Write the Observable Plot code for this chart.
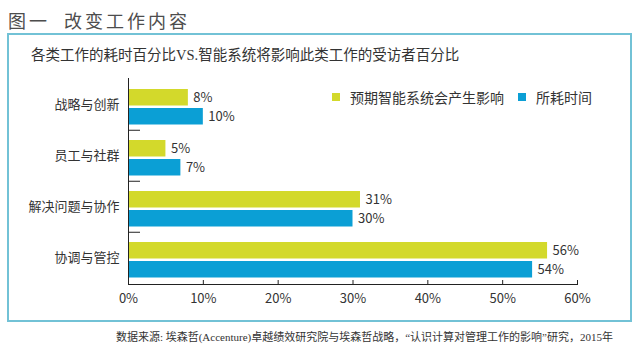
<!DOCTYPE html>
<html><head><meta charset="utf-8">
<script src="https://cdn.jsdelivr.net/npm/d3@7"></script>
<script src="https://cdn.jsdelivr.net/npm/@observablehq/plot@0.6"></script>
<style>
html,body{margin:0;padding:0;background:#fff;width:640px;height:351px;overflow:hidden;position:relative;font-family:"Noto Sans CJK SC",sans-serif;}
#title{position:absolute;left:8px;top:8px;font-size:18px;letter-spacing:3px;color:#4d4d4d;line-height:24px;white-space:pre;}
#box{position:absolute;left:7px;top:33px;width:621px;height:285px;border:2px solid #72c2d6;}
#subtitle{position:absolute;left:31px;top:45px;font-family:"Liberation Serif","Noto Sans CJK SC",serif;font-size:14.5px;color:#333;line-height:20px;white-space:nowrap;}
#chart{position:absolute;left:0;top:62px;}
#legend{position:absolute;left:332px;top:80px;}
#legend svg{margin-right:10px !important;}
#caption{position:absolute;right:27px;top:329px;font-family:"Liberation Serif","Noto Sans CJK SC",serif;font-size:11px;line-height:16px;color:#333;white-space:nowrap;}
</style>
</head><body>
<div id="title">图一  改变工作内容</div>
<div id="box"></div>
<div id="subtitle">各类工作的耗时百分比VS.智能系统将影响此类工作的受访者百分比</div>
<div id="chart"></div>
<div id="legend"></div>
<div id="caption">数据来源: 埃森哲(Accenture)卓越绩效研究院与埃森哲战略，“认识计算对管理工作的影响”研究，2015年</div>
<script>
const categories = ["战略与创新","员工与社群","解决问题与协作","协调与管控"];
const seriesNames = ["预期智能系统会产生影响","所耗时间"];
const seriesColors = ["#d3d92b","#0b9fd5"];
const predicted = [8,5,31,56];
const timeSpent = [10,7,30,54];
const xTicks = [0,10,20,30,40,50,60];

const rowsA = categories.map((c,i)=>({category:c, series:seriesNames[0], value:predicted[i]}));
const rowsB = categories.map((c,i)=>({category:c, series:seriesNames[1], value:timeSpent[i]}));

const W=640,H=260,mT=16,mB=38,mL=128,mR=63;
const pw=W-mL-mR, ph=H-mT-mB;
const bw=ph/categories.length;
const barH=17, topA=10, topB=29;

const plot = Plot.plot({
  width:W,height:H,marginTop:mT,marginBottom:mB,marginLeft:mL,marginRight:mR,
  style:{fontFamily:'"Noto Sans CJK SC",sans-serif',fontSize:"13px",color:"#333",background:"transparent",overflow:"visible"},
  x:{domain:[0,60],label:null},
  y:{domain:categories,padding:0,label:null},
  color:{domain:seriesNames,range:seriesColors},
  marks:[
    Plot.barX(rowsA,{x:"value",y:"category",fill:"series",insetTop:topA,insetBottom:bw-topA-barH}),
    Plot.barX(rowsB,{x:"value",y:"category",fill:"series",insetTop:topB,insetBottom:bw-topB-barH}),
    Plot.text(rowsA,{x:"value",y:"category",text:d=>d.value+"%",textAnchor:"start",dx:5,dy:topA+barH/2-bw/2,fill:"#333"}),
    Plot.text(rowsB,{x:"value",y:"category",text:d=>d.value+"%",textAnchor:"start",dx:5,dy:topB+barH/2-bw/2,fill:"#333"}),
    Plot.frame({anchor:"left",stroke:"#222"}),
    Plot.frame({anchor:"bottom",stroke:"#222"}),
    Plot.ruleX(xTicks,{x:d=>d,insetTop:ph-4,stroke:"#222"}),
    Plot.ruleY(categories.slice(1),{y:d=>d,dy:-bw/2,insetRight:pw-12,stroke:"#222"}),
    Plot.axisX({ticks:xTicks,tickFormat:d=>d+"%",tickSize:0,tickPadding:9}),
    Plot.axisY({tickSize:0,tickPadding:9})
  ]
});
document.getElementById("chart").append(plot);
const lg = plot.legend("color",{legend:"swatches",swatchSize:8,className:"lg",style:{fontSize:"14px",color:"#333",fontFamily:'"Noto Sans CJK SC",sans-serif'}});
document.getElementById("legend").append(lg);
</script>
</body></html>
